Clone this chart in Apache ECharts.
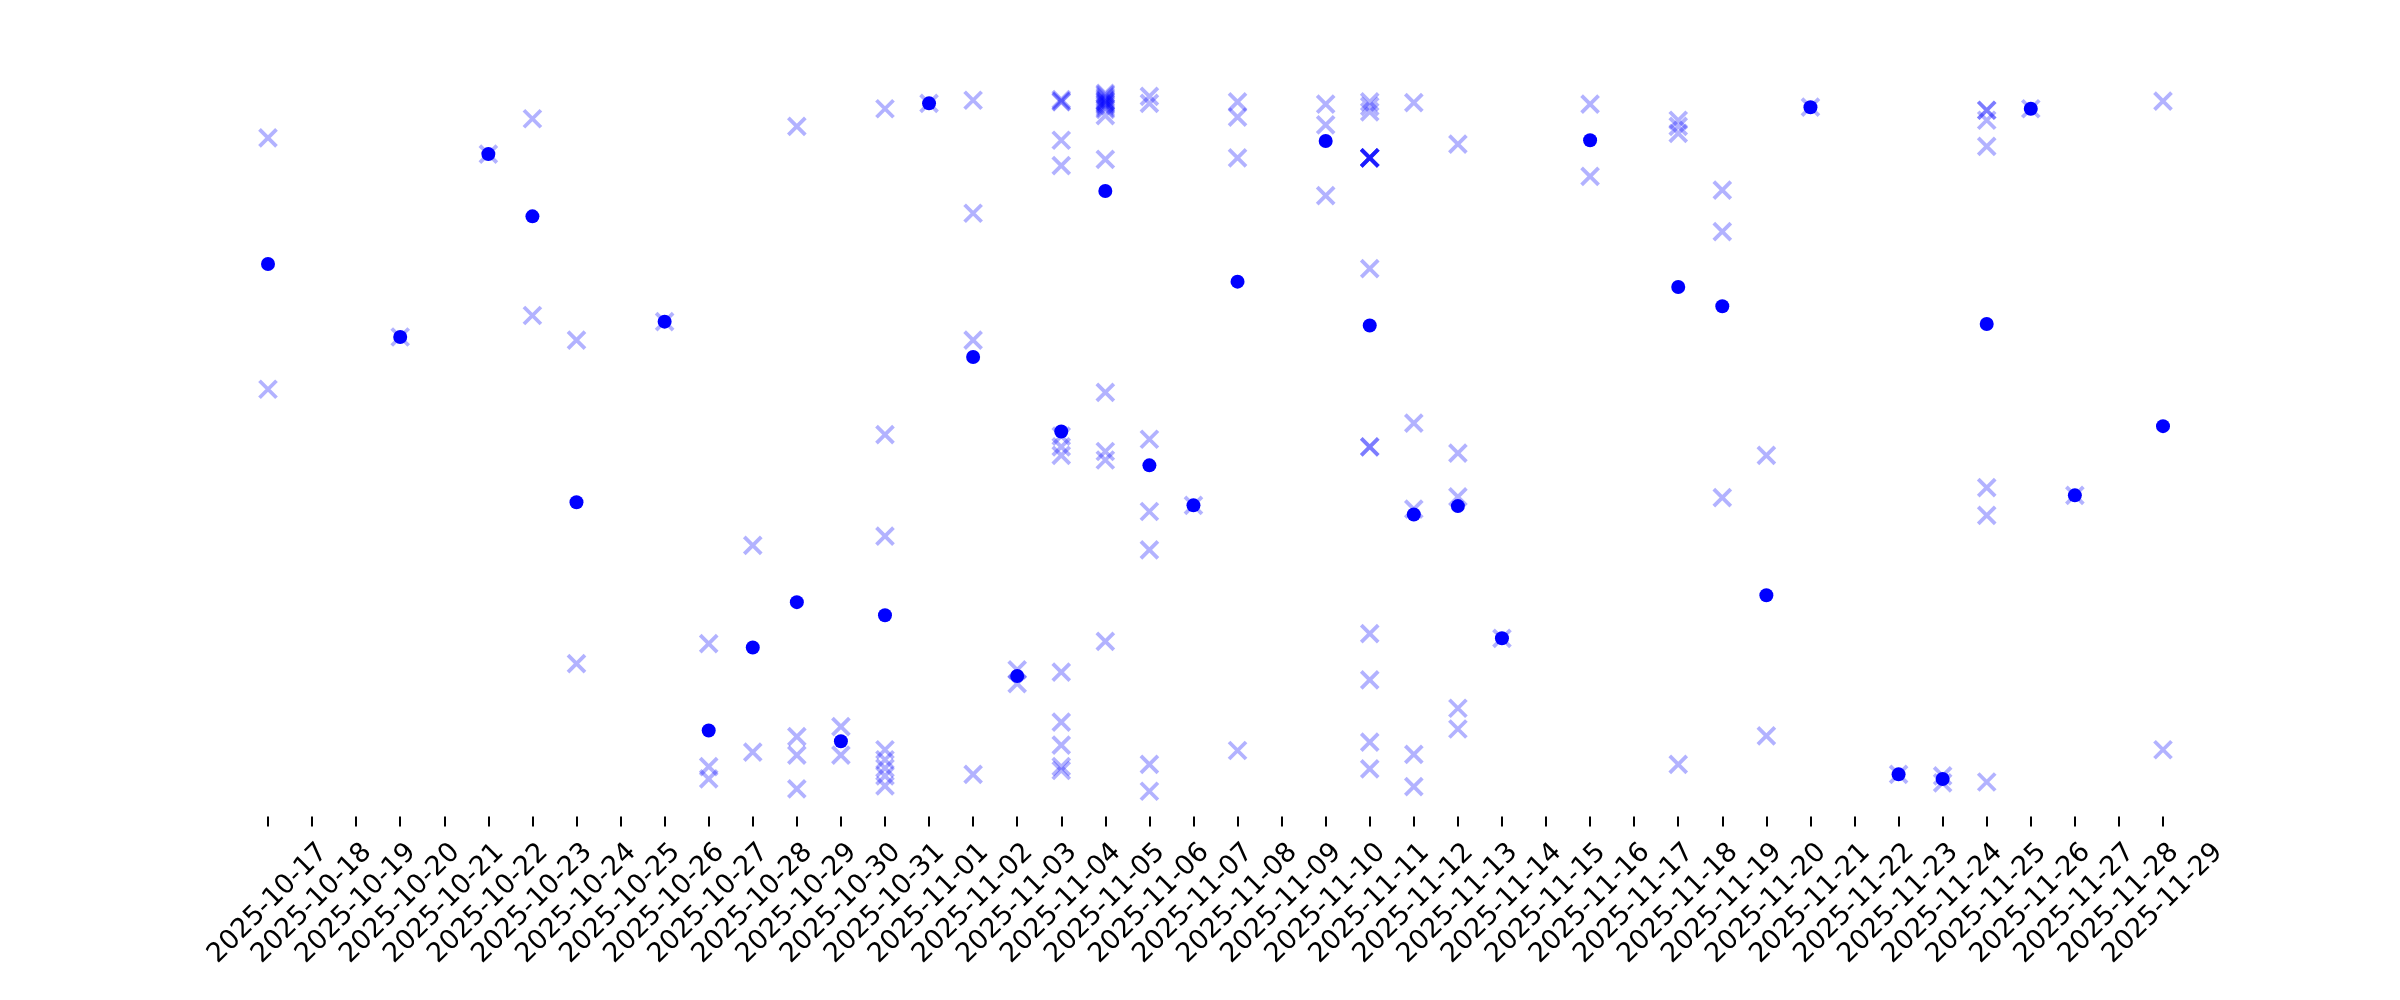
<!DOCTYPE html>
<html>
<head>
<meta charset="utf-8">
<title>Daily observations and mean</title>
<script src="https://cdn.jsdelivr.net/npm/echarts@6/dist/echarts.min.js"></script>
<style>
  html, body { margin: 0; padding: 0; background: #fff; }
  #chart { width: 2400px; height: 1000px; }
</style>
</head>
<body>
<div id="chart"></div>
<script>
// categories (one per day)
const dates = [
  '2025-10-17', '2025-10-18', '2025-10-19', '2025-10-20', '2025-10-21', '2025-10-22',
  '2025-10-23', '2025-10-24', '2025-10-25', '2025-10-26', '2025-10-27', '2025-10-28',
  '2025-10-29', '2025-10-30', '2025-10-31', '2025-11-01', '2025-11-02', '2025-11-03',
  '2025-11-04', '2025-11-05', '2025-11-06', '2025-11-07', '2025-11-08', '2025-11-09',
  '2025-11-10', '2025-11-11', '2025-11-12', '2025-11-13', '2025-11-14', '2025-11-15',
  '2025-11-16', '2025-11-17', '2025-11-18', '2025-11-19', '2025-11-20', '2025-11-21',
  '2025-11-22', '2025-11-23', '2025-11-24', '2025-11-25', '2025-11-26', '2025-11-27',
  '2025-11-28', '2025-11-29'
]

// individual observations per day (light crosses)
const observations = [
  [89.6, 56.9],
  [],
  [],
  [63.7],
  [],
  [87.5],
  [92.1, 66.5],
  [63.3, 21.2],
  [],
  [65.7],
  [23.8, 7.8, 6.2],
  [36.6, 9.7],
  [91.1, 11.7, 9.3, 4.9],
  [13.0, 9.3],
  [93.4, 51.0, 37.8, 10.0, 8.7, 7.6, 6.6, 5.3],
  [94.1],
  [94.5, 79.8, 63.3, 6.8],
  [20.4, 18.6],
  [94.6, 94.4, 94.3, 89.3, 86.0, 50.8, 49.4, 48.3, 20.1, 13.6, 10.6, 7.8, 7.3],
  [95.4, 95.2, 94.9, 94.7, 94.5, 94.4, 94.3, 94.1, 94.0, 93.8, 93.5, 93.3, 92.5, 86.8, 56.5, 48.8, 47.7, 24.1],
  [95.0, 94.1, 50.4, 41.0, 36.0, 8.1, 4.6],
  [41.8],
  [94.3, 92.3, 87.0, 9.9],
  [],
  [94.0, 91.3, 82.1],
  [94.3, 93.7, 93.0, 87.0, 87.0, 87.0, 87.0, 87.0, 87.0, 72.6, 49.4, 49.4, 25.1, 19.1, 11.0, 7.5],
  [94.2, 52.5, 41.3, 9.4, 5.2],
  [88.8, 48.6, 42.9, 15.4, 12.7],
  [24.5],
  [],
  [94.0, 84.6],
  [],
  [91.9, 91.1, 90.2, 8.1],
  [82.8, 77.4, 42.8],
  [48.3, 11.8],
  [93.6],
  [],
  [6.8],
  [6.6, 5.7],
  [93.2, 93.2, 91.9, 88.5, 44.1, 40.5, 5.8],
  [93.4],
  [43.1],
  [],
  [94.4, 10.0]
]

// daily mean (solid dots), null = no data that day
const dailyMean = [
  73.2, null, null, 63.7, null, 87.5, 79.4, 42.2, null, 65.7, 12.5, 23.3,
  29.2, 11.1, 27.5, 94.1, 61.1, 19.6, 51.4, 82.7, 47.0, 41.8, 70.9, null,
  89.2, 65.2, 40.6, 41.7, 24.5, null, 89.3, null, 70.2, 67.7, 30.1, 93.6,
  null, 6.8, 6.2, 65.4, 93.4, 43.1, null, 52.1
]

const crossData = []
observations.forEach((vals, i) => {
  vals.forEach(v => crossData.push([dates[i], v]))
})
const meanData = []
dailyMean.forEach((v, i) => {
  if (v !== null) meanData.push([dates[i], v])
})

const chart = echarts.init(document.getElementById('chart'))

chart.setOption({
  animation: false,
  backgroundColor: '#ffffff',
  grid: {
    left: 268,
    right: 237,
    top: 58,
    bottom: 173.4
  },
  xAxis: {
    type: 'category',
    data: dates,
    boundaryGap: false,
    axisLine: { show: false },
    axisTick: {
      show: true,
      inside: true,
      length: 10,
      alignWithLabel: true,
      interval: 0,
      lineStyle: { color: '#000', width: 2 }
    },
    axisLabel: {
      interval: 0,
      rotate: 45,
      align: 'center',
      verticalAlign: 'middle',
      margin: 77,
      color: '#000',
      fontSize: 27,
      fontFamily: 'DejaVu Sans'
    },
    splitLine: { show: false }
  },
  yAxis: {
    type: 'value',
    min: 0,
    max: 100,
    show: false
  },
  series: [{
    name: 'observations',
    type: 'scatter',
    data: crossData,
    symbol: 'path://M0,0L10,10M10,0L0,10',
    symbolSize: 17,
    itemStyle: {
      color: 'rgba(0,0,0,0)',
      borderColor: 'rgba(0,0,255,0.3)',
      borderWidth: 3.8,
      opacity: 1
    },
    emphasis: { disabled: true },
    z: 2
  }, {
    name: 'mean',
    type: 'scatter',
    data: meanData,
    symbol: 'circle',
    symbolSize: 14,
    itemStyle: { color: '#0000ff', opacity: 1 },
    emphasis: { disabled: true },
    z: 3
  }]
})
</script>
</body>
</html>
